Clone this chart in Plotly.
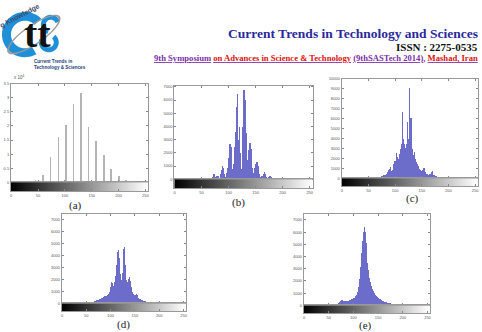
import math
import plotly.graph_objects as go

W, H = 482, 332

# ---------------- data ----------------
# (a) quantized image histogram: gray levels and counts
a_levels = [45, 59, 73, 88, 102, 116, 130, 144, 158, 172, 186, 200, 214, 228]
a_counts = [1000, 2800, 9000, 16000, 20400, 28000, 31700, 19700, 14600, 9900, 4900, 2200, 1000, 200]

# (b)-(e) histograms, bins of width 2 starting at given gray level
b_start = 60
b_counts = [50, 60, 80, 100, 150, 200, 400, 450, 200, 300, 250, 150, 400, 700, 1000, 900,
            400, 200, 500, 900, 1600, 2700, 2500, 800, 1200, 2500, 3600, 5500, 6500, 3000,
            4000, 2000, 800, 4000, 6800, 6000, 3500, 1500, 2200, 2800, 2800, 2300, 900, 500,
            900, 1200, 1300, 1000, 400, 200, 250, 300, 450, 550, 450, 200, 150, 200, 250, 200,
            100, 80, 100, 60, 50, 60, 80, 50, 40, 100, 50, 30, 30, 20, 20, 10]

c_start = 60
c_counts = [30, 50, 60, 80, 100, 150, 200, 250, 300, 400, 350, 500, 700, 900, 1000, 1200,
            800, 900, 1500, 1800, 2600, 2200, 2000, 2500, 3000, 3500, 6700, 4000, 3500, 3100,
            3500, 5700, 4000, 9100, 6100, 3000, 2400, 2700, 2000, 1700, 1500, 1300, 1000, 900,
            800, 900, 1100, 1100, 700, 500, 400, 450, 500, 700, 750, 400, 300, 250, 200, 180,
            150, 120, 100, 80, 70, 60, 50, 40, 30, 20, 20, 10, 10, 10, 10, 10]

d_start = 50
d_counts = [20, 30, 40, 60, 80, 100, 130, 160, 200, 250, 300, 330, 300, 350, 400, 450,
            500, 550, 600, 600, 650, 700, 800, 1000, 1400, 1800, 1700, 1500, 1800, 2300,
            3200, 4300, 4500, 3800, 2500, 2000, 2600, 4600, 5100, 4700, 3200, 2000, 1800,
            2100, 2200, 1900, 1400, 1000, 800, 700, 750, 820, 700, 500, 400, 350, 300, 300,
            250, 200, 180, 150, 130, 110, 100, 90, 80, 70, 60, 50, 45, 40, 35, 30, 30, 25,
            20, 20, 15, 15, 10, 10, 10, 5, 5, 5]

e_start = 60
e_counts = [0, 20, 50, 100, 200, 320, 400, 460, 450, 380, 350, 350, 360, 380, 400, 420,
            450, 500, 550, 600, 650, 750, 900, 1100, 1500, 2200, 3200, 4300, 5300, 6000,
            6400, 6000, 5100, 4200, 3500, 2900, 2300, 1900, 1600, 1400, 1200, 1050, 900, 800,
            700, 600, 550, 500, 450, 400, 350, 320, 300, 270, 250, 220, 200, 180, 160, 140,
            130, 120, 100, 90, 80, 70, 60, 55, 50, 45, 40, 35, 30, 25, 20, 15]

gray_levels = list(range(256))
x_ticks = [0, 50, 100, 150, 200, 250]
a_yticks = [0, 5000, 10000, 15000, 20000, 25000, 30000, 35000]
a_yticktext = ["0", "0.5", "1", "1.5", "2", "2.5", "3", "3.5"]
k_yticks_7 = [0, 1000, 2000, 3000, 4000, 5000, 6000, 7000]
k_yticks_10 = [0, 1000, 2000, 3000, 4000, 5000, 6000, 7000, 8000, 9000, 10000]
labels = ["(a)", "(b)", "(c)", "(d)", "(e)"]

# ---------------- layout helpers ----------------
def px(x):
    return x / W

def py(y):
    return 1 - y / H

# panel geometry: left, right, top, zero line, strip bottom, ymax, label pos
panels = [
    dict(l=10, r=148, t=82, z=182, b=191, ymax=35000, lab=(75, 206)),
    dict(l=174, r=313, t=84, z=179, b=188, ymax=7080, lab=(238, 203)),
    dict(l=342, r=479, t=77, z=178, b=186, ymax=10000, lab=(413, 198)),
    dict(l=61, r=186, t=214, z=305, b=313, ymax=7500, lab=(123, 326)),
    dict(l=304, r=431, t=214, z=307, b=315, ymax=7500, lab=(366, 327)),
]

fig = go.Figure()

bar_color = "rgba(92,92,196,0.9)"
hist_sets = [
    (a_levels, a_counts, 1.6, "#b4b4b4"),
    ([b_start + 2 * i + 1 for i in range(len(b_counts))], b_counts, 2, bar_color),
    ([c_start + 2 * i + 1 for i in range(len(c_counts))], c_counts, 2, bar_color),
    ([d_start + 2 * i + 1 for i in range(len(d_counts))], d_counts, 2, bar_color),
    ([e_start + 2 * i + 1 for i in range(len(e_counts))], e_counts, 2, bar_color),
]

tickfont = dict(family="Liberation Sans", size=4, color="#555")
layout_axes = {}
for i, (p, (hx, hy, wdt, col)) in enumerate(zip(panels, hist_sets)):
    n = i + 1
    m = i + 6
    fig.add_trace(go.Bar(x=hx, y=hy, width=wdt, marker=dict(color=col, line=dict(width=0)),
                         xaxis=f"x{n}", yaxis=f"y{n}", showlegend=False))
    fig.add_trace(go.Heatmap(z=[gray_levels], x=gray_levels, y=[0],
                             colorscale=[[0, "black"], [1, "white"]], showscale=False,
                             xaxis=f"x{m}", yaxis=f"y{m}"))
    if i == 0:
        ytv, ytt = a_yticks, a_yticktext
    elif i == 2:
        ytv, ytt = k_yticks_10, [str(v) for v in k_yticks_10]
    else:
        ytv, ytt = k_yticks_7, [str(v) for v in k_yticks_7]
    layout_axes[f"xaxis{n}"] = dict(domain=[px(p["l"]), px(p["r"])], range=[-0.5, 255.5],
                                    anchor=f"y{n}", showticklabels=False, ticks="inside",
                                    ticklen=2, tickcolor="#888", tickvals=x_ticks,
                                    showline=True, linecolor="#999", linewidth=1, mirror="ticks",
                                    showgrid=False, zeroline=False, fixedrange=True)
    layout_axes[f"yaxis{n}"] = dict(domain=[py(p["z"]), py(p["t"])], range=[0, p["ymax"]],
                                    anchor=f"x{n}", tickvals=ytv, ticktext=ytt, ticks="inside",
                                    ticklen=2, tickcolor="#888", tickfont=tickfont,
                                    showline=True, linecolor="#999", linewidth=1, mirror="ticks",
                                    showgrid=False, zeroline=False, fixedrange=True)
    layout_axes[f"xaxis{m}"] = dict(domain=[px(p["l"]), px(p["r"])], range=[-0.5, 255.5],
                                    anchor=f"y{m}", tickvals=x_ticks, ticks="inside", ticklen=2,
                                    tickcolor="#888", tickfont=tickfont, showline=True,
                                    linecolor="#999", linewidth=1, mirror=True,
                                    showgrid=False, zeroline=False, fixedrange=True)
    layout_axes[f"yaxis{m}"] = dict(domain=[py(p["b"]), py(p["z"])], range=[-0.5, 0.5],
                                    anchor=f"x{m}", showticklabels=False, ticks="",
                                    showline=True, linecolor="#999", linewidth=1, mirror=True,
                                    showgrid=False, zeroline=False, fixedrange=True)

annotations = []
for p, lab in zip(panels, labels):
    annotations.append(dict(text=lab, x=px(p["lab"][0]), y=py(p["lab"][1]), xref="paper",
                            yref="paper", showarrow=False, xanchor="center", yanchor="middle",
                            font=dict(family="Liberation Serif", size=11, color="#222")))
# exponent label on (a)
annotations.append(dict(text="x 10<sup>4</sup>", x=px(11), y=py(80), xref="paper", yref="paper",
                        showarrow=False, xanchor="left", yanchor="bottom",
                        font=dict(family="Liberation Sans", size=4.5, color="#555")))

# header texts
annotations.append(dict(text="<b>Current Trends in Technology and Sciences</b>", x=px(481), y=py(30.5),
                        xref="paper", yref="paper", showarrow=False, xanchor="right", yanchor="middle",
                        font=dict(family="Liberation Serif", size=13.5, color="#2a2a9c")))
annotations.append(dict(text="<b>ISSN : 2275-0535</b>", x=px(481), y=py(44.5),
                        xref="paper", yref="paper", showarrow=False, xanchor="right", yanchor="middle",
                        font=dict(family="Liberation Serif", size=11, color="#111")))
purple = "#7a2fa8"
red = "#dd1111"
line3 = (f"<b><u><span style='color:{purple}'>9th Symposium</span></u> "
         f"<u><span style='color:{red}'>on Advances in Science &amp; Technology</span></u> "
         f"<u><span style='color:{purple}'>(9thSASTech 2014)</span></u><span style='color:{purple}'>,</span> "
         f"<u><span style='color:{red}'>Mashad, Iran</span></u></b>")
annotations.append(dict(text=line3, x=px(481), y=py(56), xref="paper", yref="paper",
                        showarrow=False, xanchor="right", yanchor="middle",
                        font=dict(family="Liberation Serif", size=8.6, color=purple)))

# logo texts
annotations.append(dict(text="<b>tt</b>", x=px(37), y=py(31), xref="paper", yref="paper",
                        showarrow=False, xanchor="center", yanchor="middle",
                        font=dict(family="Liberation Serif", size=40, color="#111")))
annotations.append(dict(text="<b>Current Trends in<br>Technology &amp; Sciences</b>", x=px(31), y=py(62.5),
                        xref="paper", yref="paper", showarrow=False, xanchor="left", yanchor="middle",
                        align="left", font=dict(family="Liberation Sans", size=4.6, color="#1c3f7a")))
annotations.append(dict(text="<b>g Knowledge</b>", x=px(19), y=py(13), xref="paper", yref="paper",
                        showarrow=False, xanchor="center", yanchor="middle", textangle=-28,
                        font=dict(family="Liberation Sans", size=7, color="#3a4a6a")))

# logo shapes (decoration)
def arc_path(cx, cy, r_out, r_in, a0, a1, nseg=40):
    pts_out = []
    pts_in = []
    for k in range(nseg + 1):
        a = math.radians(a0 + (a1 - a0) * k / nseg)
        pts_out.append((cx + r_out * math.cos(a), cy - r_out * math.sin(a)))
        pts_in.append((cx + r_in * math.cos(a), cy - r_in * math.sin(a)))
    pts = pts_out + pts_in[::-1]
    s = "M " + " L ".join(f"{px(x):.5f},{py(y):.5f}" for x, y in pts) + " Z"
    return s

def ellipse_ring(cx, cy, a, b, ang, th, nseg=60):
    ca, sa = math.cos(math.radians(ang)), math.sin(math.radians(ang))
    outer, inner = [], []
    for k in range(nseg + 1):
        t = 2 * math.pi * k / nseg
        for (aa, bb, lst) in ((a, b, outer), (a - th, b - th * 0.6, inner)):
            x0, y0 = aa * math.cos(t), bb * math.sin(t)
            lst.append((cx + x0 * ca - y0 * sa, cy - (x0 * sa + y0 * ca)))
    pts = outer + inner[::-1]
    return "M " + " L ".join(f"{px(x):.5f},{py(y):.5f}" for x, y in pts) + " Z"

shapes = [
    dict(type="path", path=ellipse_ring(33, 32, 32, 10, 35, 2.2), xref="paper", yref="paper",
         fillcolor="#9a9a9a", line=dict(width=0), layer="above"),
    dict(type="path", path=arc_path(24, 32, 23, 14, 45, 300), xref="paper", yref="paper",
         fillcolor="#1f8fd8", line=dict(width=0), layer="below"),
    dict(type="path", path=arc_path(50, 22, 10, 5, 20, 250), xref="paper", yref="paper",
         fillcolor="#1f8fd8", line=dict(width=0), layer="below"),
    dict(type="path", path=arc_path(48, 40, 10, 5, -200, 50), xref="paper", yref="paper",
         fillcolor="#1f8fd8", line=dict(width=0), layer="below"),
]

fig.update_layout(
    width=W, height=H, margin=dict(l=0, r=0, t=0, b=0),
    paper_bgcolor="white", plot_bgcolor="white", bargap=0, showlegend=False,
    annotations=annotations, shapes=shapes, **layout_axes,
)

fig.write_html("out.html", config={"displayModeBar": False})
